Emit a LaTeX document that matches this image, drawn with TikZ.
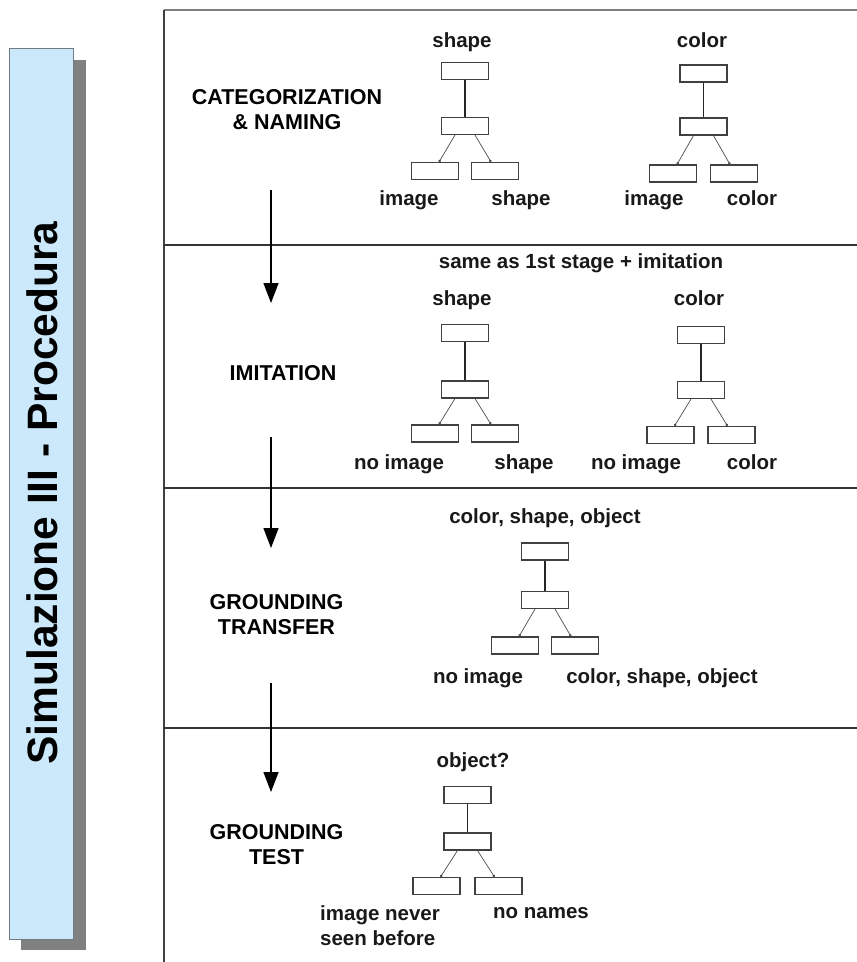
\documentclass[tikz,border=0pt]{standalone}
\usepackage{fontspec}
\setmainfont{Liberation Sans}
\usetikzlibrary{arrows.meta}

\definecolor{barblue}{HTML}{CCE9FB}
\definecolor{barline}{HTML}{6E7A84}
\definecolor{shadowgray}{HTML}{808080}

\tikzset{
  tbox/.style={draw=black!75, line width=1.1pt, rectangle, minimum width=47pt,
    minimum height=17pt, inner sep=0pt},
  stem/.style={draw=black!85, line width=1.2pt},
  branch/.style={draw=black!70, line width=0.7pt, -{Circle[length=2.6pt]}},
  lbltext/.style={font=\bfseries\fontsize{20.5}{25}\selectfont, inner sep=0pt, text=black!90},
  lbl/.style={lbltext, text height=15pt, text depth=4.5pt},
  stagelbl/.style={font=\bfseries\fontsize{21.5}{25}\selectfont, align=center, inner sep=0pt},
  flowarrow/.style={draw=black, line width=1.4pt, -{Triangle[width=15pt,length=20pt]}},
  divider/.style={draw=black!80, line width=1.5pt},
}

% one small tree: top box, middle box, two leaf boxes
% #1 name prefix, #2 centre x, #3 top y, #4 middle y, #5 leaf y, #6 leaf offset
\newcommand{\leaftree}[6]{%
  \node[tbox] (#1t) at (#2,#3) {};
  \node[tbox] (#1m) at (#2,#4) {};
  \node[tbox] (#1l) at ({#2-#6},#5) {};
  \node[tbox] (#1r) at ({#2+#6},#5) {};
  \draw[stem] (#1t) -- (#1m);
  \draw[branch] ([xshift=-10pt]#1m.south) -- ([xshift=4pt]#1l.north);
  \draw[branch] ([xshift=10pt]#1m.south) -- ([xshift=-4pt]#1r.north);
}

\begin{document}
\begin{tikzpicture}[x=1pt, y=-1pt]
\useasboundingbox (0,0) rectangle (857,962);

% side title bar with drop shadow
\fill[shadowgray] (21,60) rectangle (86,950);
\draw[fill=barblue, draw=barline, line width=1pt] (9,48) rectangle (73,939);
\node[rotate=90, font=\bfseries\fontsize{42.5}{50}\selectfont, inner sep=0pt]
  (title) at (42,493) {Simulazione III - Procedura};

% frame and stage dividers
\draw[draw=black!50, line width=1.5pt] (164,10) -- (860,10);
\draw[draw=black!75, line width=1.3pt] (164,10) -- (164,965);
\draw[divider] (164,245) -- (860,245);
\draw[divider] (164,488) -- (860,488);
\draw[divider] (164,728) -- (860,728);

% stage names
\node[stagelbl] (s1) at (287,109.5) {CATEGORIZATION\\\& NAMING};
\node[stagelbl] (s2) at (283,373) {IMITATION};
\node[stagelbl] (s3) at (276.5,614.5) {GROUNDING\\TRANSFER};
\node[stagelbl] (s4) at (276.5,844.5) {GROUNDING\\TEST};

% flow arrows between stages
\coordinate (a1s) at (271,190); \coordinate (a1e) at (271,303);
\coordinate (a2s) at (271,437); \coordinate (a2e) at (271,548);
\coordinate (a3s) at (271,683); \coordinate (a3e) at (271,792);
\draw[flowarrow] (a1s) -- (a1e);
\draw[flowarrow] (a2s) -- (a2e);
\draw[flowarrow] (a3s) -- (a3e);

% stage 1
\leaftree{pa}{465}{71}{126}{171}{30}
\leaftree{pb}{703.5}{73.5}{126.5}{173.5}{30.5}
\node[lbl] (pat) at (462,42) {shape};
\node[lbl] (pbt) at (702,42) {color};
\node[lbl] (pal) at (409,200) {image};
\node[lbl] (par) at (521,200) {shape};
\node[lbl] (pbl) at (654,200) {image};
\node[lbl] (pbr) at (752,200) {color};

% stage 2
\node[lbl] (qhead) at (581,263) {same as 1st stage + imitation};
\leaftree{qa}{465}{333}{389.5}{433.5}{30}
\leaftree{qb}{701}{335}{390}{435}{30.5}
\node[lbl] (qat) at (462,300) {shape};
\node[lbl] (qbt) at (699,300) {color};
\node[lbl] (qal) at (399,464) {no image};
\node[lbl] (qar) at (524,464) {shape};
\node[lbl] (qbl) at (636,464) {no image};
\node[lbl] (qbr) at (752,464) {color};

% stage 3
\leaftree{ra}{545}{551.5}{600}{645.5}{30}
\node[lbl] (rat) at (545,518) {color, shape, object};
\node[lbl] (ral) at (478,678) {no image};
\node[lbl] (rar) at (662,678) {color, shape, object};

% stage 4
\leaftree{sa}{467.5}{795}{841.5}{886}{31}
\node[lbl] (sat) at (473,762) {object?};
\node[lbltext, align=left, anchor=west] (sal) at (320,925.5) {image never\\seen before};
\node[lbl] (sar) at (541,913) {no names};

\end{tikzpicture}
\end{document}
